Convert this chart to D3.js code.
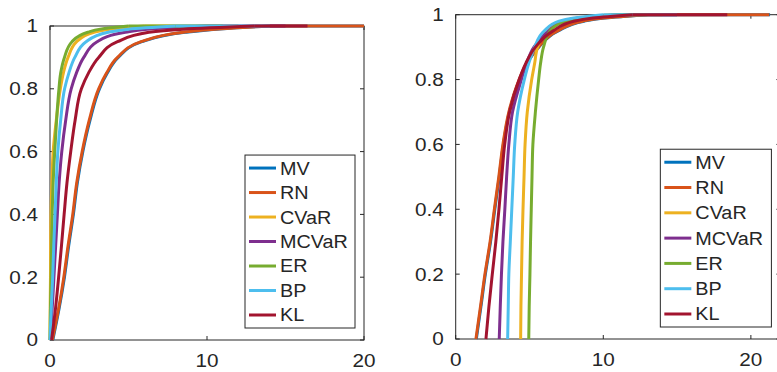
<!DOCTYPE html>
<html>
<head>
<meta charset="utf-8">
<script src="https://cdn.jsdelivr.net/npm/d3@7"></script>
<style>
  body { margin: 0; background: #fff; }
  svg { display: block; }
  text { font-family: "Liberation Sans", Arial, sans-serif; font-size: 18px; fill: #262626; }
</style>
</head>
<body>
<svg id="chart" width="777" height="372"></svg>
<script>
// series names and colours (MATLAB defaults)
const seriesNames = ["MV", "RN", "CVaR", "MCVaR", "ER", "BP", "KL"];
const seriesColors = ["#0072BD", "#D95319", "#EDB120", "#7E2F8E", "#77AC30", "#4DBEEE", "#A2142F"];

// cumulative probability levels, the x value of each curve is read at these levels
const levels = [0, 0.1, 0.2, 0.3, 0.4, 0.5, 0.6, 0.7, 0.8, 0.85, 0.9, 0.95, 0.98, 0.99, 1];

// left panel: x where each CDF reaches the level
const leftMV    = [0.18, 0.58, 0.92, 1.19, 1.49, 1.74, 2.09, 2.55, 3.15, 3.65, 4.35, 5.85, 8.6, 10.6, 14];
const leftRN    = [0.15, 0.55, 0.88, 1.15, 1.45, 1.70, 2.05, 2.50, 3.10, 3.60, 4.30, 5.80, 8.5, 10.5, 14];
const leftCVaR  = [0, 0.01, 0.03, 0.04, 0.06, 0.12, 0.20, 0.40, 0.66, 0.85, 1.15, 1.7, 2.8, 3.8, 6];
const leftMCVaR = [0.02, 0.14, 0.25, 0.36, 0.47, 0.58, 0.75, 1.0, 1.35, 1.68, 2.15, 3.0, 4.8, 6.2, 10];
const leftER    = [0, 0.03, 0.07, 0.10, 0.14, 0.20, 0.30, 0.42, 0.57, 0.68, 0.92, 1.4, 2.4, 3.2, 5];
const leftBP    = [0, 0.08, 0.17, 0.24, 0.32, 0.40, 0.50, 0.68, 0.93, 1.2, 1.58, 2.3, 3.7, 5.0, 8];
const leftKL    = [0.1, 0.35, 0.55, 0.73, 0.90, 1.08, 1.32, 1.60, 2.0, 2.45, 3.1, 4.3, 6.3, 8.5, 13];
const leftEnd   = [20, 20, 12, 15, 11, 14, 16.4];

// right panel
const rightMV    = [1.40, 1.71, 2.01, 2.36, 2.65, 2.95, 3.23, 3.63, 4.33, 4.83, 5.63, 6.95, 8.7, 10.1, 13];
const rightRN    = [1.37, 1.68, 1.98, 2.33, 2.62, 2.92, 3.20, 3.60, 4.30, 4.80, 5.60, 6.90, 8.6, 10.0, 13];
const rightCVaR  = [4.40, 4.42, 4.46, 4.50, 4.56, 4.63, 4.70, 4.85, 5.15, 5.35, 5.55, 6.2, 7.2, 8.3, 10.5];
const rightMCVaR = [2.95, 3.02, 3.10, 3.20, 3.33, 3.45, 3.60, 3.85, 4.45, 4.80, 5.30, 6.3, 7.3, 8.3, 11];
const rightER    = [4.95, 4.98, 5.03, 5.07, 5.12, 5.17, 5.23, 5.40, 5.62, 5.75, 5.95, 6.4, 7.5, 8.5, 11];
const rightBP    = [3.52, 3.56, 3.60, 3.70, 3.80, 3.90, 4.00, 4.20, 4.65, 4.95, 5.35, 6.0, 7.0, 8.0, 10];
const rightKL    = [2.05, 2.25, 2.48, 2.72, 2.93, 3.12, 3.32, 3.65, 4.30, 4.75, 5.40, 6.6, 8.0, 9.3, 12];
const rightEnd   = [21.3, 21.25, 14, 15, 13, 15, 18.4];

const yTicks = [0, 0.2, 0.4, 0.6, 0.8, 1];
const xTicks = [0, 10, 20];

const panels = [
  { left: 50, right: 364, top: 26, bottom: 340, xMax: 20,
    curves: [leftMV, leftRN, leftCVaR, leftMCVaR, leftER, leftBP, leftKL], ends: leftEnd },
  { left: 455.7, right: 780.4, top: 14.7, bottom: 339, xMax: 22,
    curves: [rightMV, rightRN, rightCVaR, rightMCVaR, rightER, rightBP, rightKL], ends: rightEnd }
];

const svg = d3.select("#chart");
const axisColor = "#262626";

// widen glyphs a little, the source figure is stretched sideways
function stretch(sel, k) {
  sel.each(function() {
    const w = this.getComputedTextLength();
    d3.select(this).attr("textLength", w * k).attr("lengthAdjust", "spacingAndGlyphs");
  });
}

panels.forEach(p => {
  const x = d3.scaleLinear().domain([0, p.xMax]).range([p.left, p.right]);
  const y = d3.scaleLinear().domain([0, 1]).range([p.bottom, p.top]);
  const g = svg.append("g");

  // box
  g.append("rect")
    .attr("x", p.left).attr("y", p.top)
    .attr("width", p.right - p.left).attr("height", p.bottom - p.top)
    .attr("fill", "none").attr("stroke", axisColor).attr("stroke-width", 1);

  const tl = 4;
  // inward ticks on all four sides
  g.selectAll(".ytick").data(yTicks).join("line")
    .attr("x1", p.left).attr("x2", p.left + tl)
    .attr("y1", d => y(d)).attr("y2", d => y(d))
    .attr("stroke", axisColor);
  g.selectAll(".ytickr").data(yTicks).join("line")
    .attr("x1", p.right).attr("x2", p.right - tl)
    .attr("y1", d => y(d)).attr("y2", d => y(d))
    .attr("stroke", axisColor);
  g.selectAll(".xtick").data(xTicks).join("line")
    .attr("x1", d => x(d)).attr("x2", d => x(d))
    .attr("y1", p.bottom).attr("y2", p.bottom - tl)
    .attr("stroke", axisColor);
  g.selectAll(".xtickt").data(xTicks).join("line")
    .attr("x1", d => x(d)).attr("x2", d => x(d))
    .attr("y1", p.top).attr("y2", p.top + tl)
    .attr("stroke", axisColor);

  // tick labels
  const yl = g.selectAll(".ylab").data(yTicks).join("text")
    .attr("x", p.left - 12).attr("y", d => y(d))
    .attr("dy", "0.36em").attr("text-anchor", "end")
    .text(d => d3.format("~g")(d));
  stretch(yl, 1.15);
  const xl = g.selectAll(".xlab").data(xTicks).join("text")
    .attr("x", d => x(d)).attr("y", p.bottom + 27)
    .attr("text-anchor", "middle")
    .text(d => d);
  stretch(xl, 1.15);

  // curves
  const line = d3.line()
    .x(d => x(d[0])).y(d => y(d[1]))
    .curve(d3.curveMonotoneY);
  p.curves.forEach((arr, i) => {
    const pts = arr.map((v, j) => [v, levels[j]]);
    g.append("path")
      .attr("d", line(pts))
      .attr("fill", "none").attr("stroke", seriesColors[i]).attr("stroke-width", 3);
    g.append("line")
      .attr("x1", x(arr[arr.length - 1])).attr("x2", x(p.ends[i]))
      .attr("y1", y(1)).attr("y2", y(1))
      .attr("stroke", seriesColors[i]).attr("stroke-width", 3);
  });

  // legend, southeast
  const rowH = (p.bottom - p.top) * 0.078;
  const lw = 110 + (p.right - p.left - 314) * 0.1;
  const lh = rowH * 6 + 26;
  const lx = p.right - 9 - lw, ly = p.bottom - 12 - lh;
  const lg = g.append("g");
  lg.append("rect")
    .attr("x", lx).attr("y", ly).attr("width", lw).attr("height", lh)
    .attr("fill", "#fff").attr("stroke", axisColor).attr("stroke-width", 1);
  seriesNames.forEach((name, i) => {
    const cy = ly + 13 + i * rowH;
    lg.append("line")
      .attr("x1", lx + 4).attr("x2", lx + 31)
      .attr("y1", cy).attr("y2", cy)
      .attr("stroke", seriesColors[i]).attr("stroke-width", 3);
    const t = lg.append("text")
      .attr("x", lx + 35).attr("y", cy).attr("dy", "0.36em")
      .text(name);
    stretch(t, 1.1);
  });
});
</script>
</body>
</html>
